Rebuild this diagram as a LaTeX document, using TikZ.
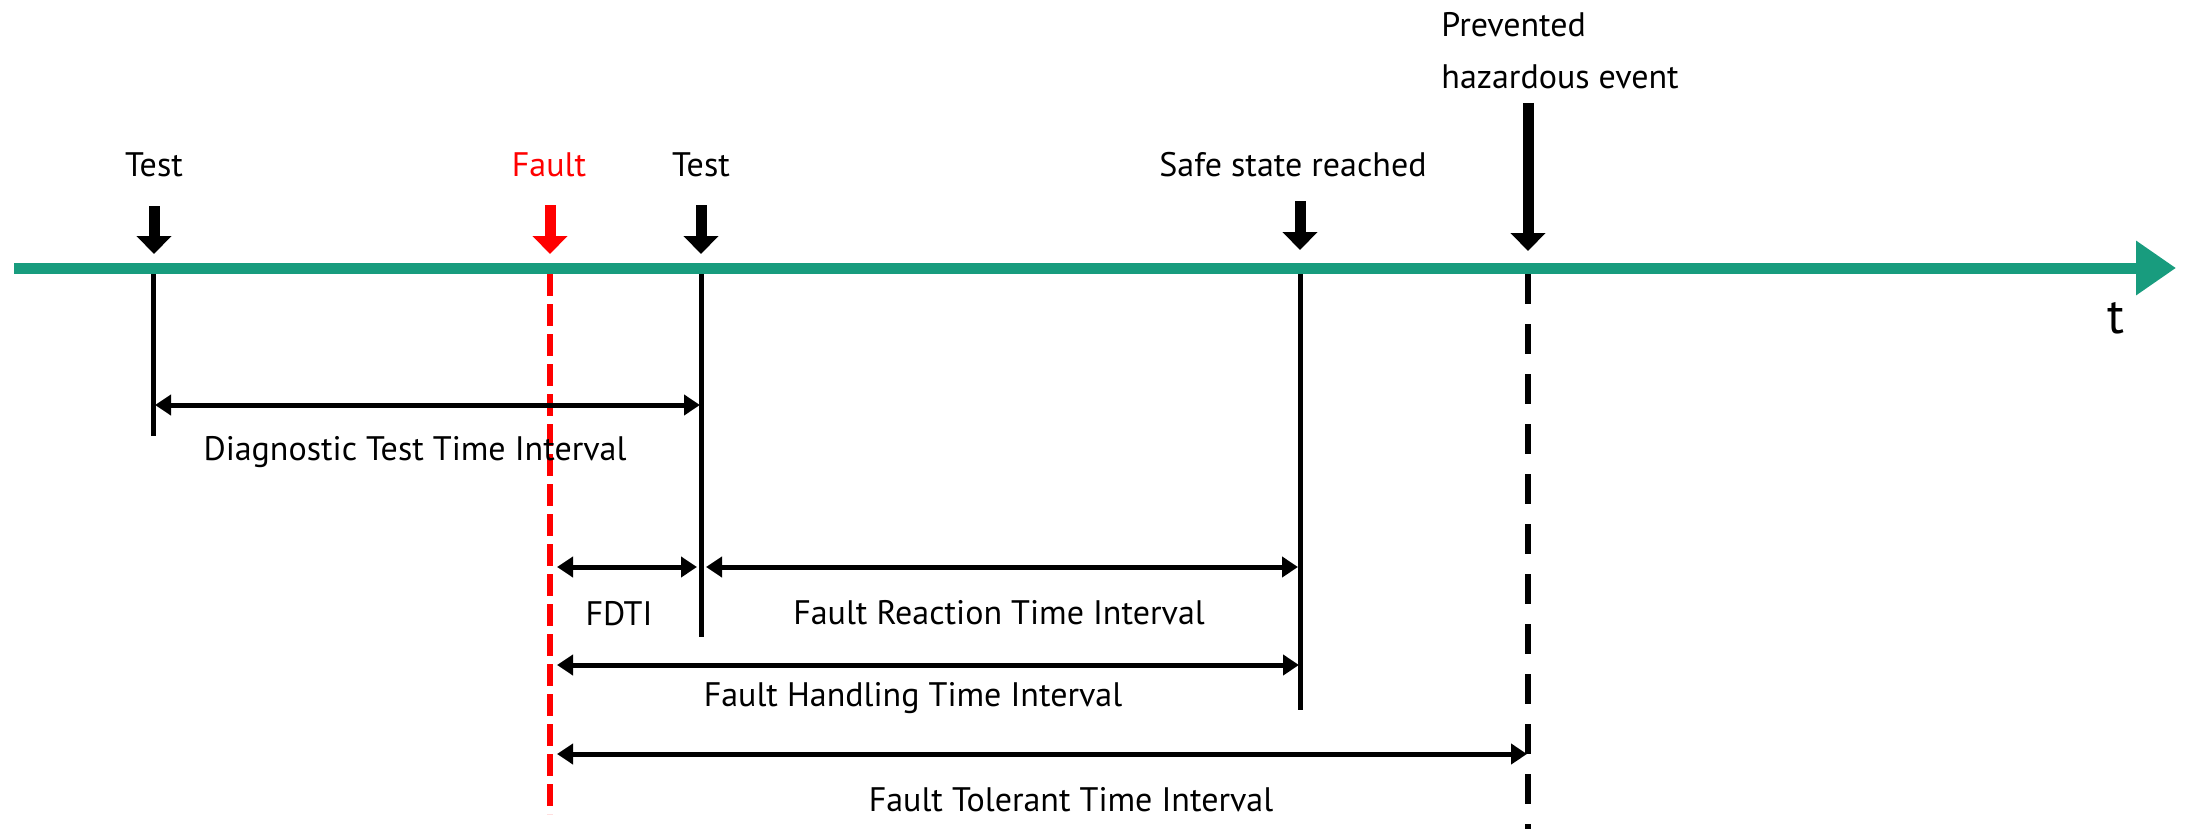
\documentclass[tikz,border=0pt]{standalone}
\usepackage{fontspec}
\setmainfont{PT Sans}
\usetikzlibrary{arrows.meta}
\definecolor{teal}{RGB}{24,156,126}
\definecolor{fred}{RGB}{255,0,0}
\begin{document}
\begin{tikzpicture}[x=0.5pt,y=-0.5pt,
  lbl/.style={font=\fontsize{17}{20}\selectfont, inner sep=0pt},
  timeline/.style={draw=teal, line width=5.5pt, -{Triangle[length=20pt,width=26pt]}},
  evarrow/.style={line width=5.5pt, -{Triangle[length=9pt,width=17pt]}},
  marker/.style={line width=2.5pt},
  dim/.style={line width=2.5pt, {Triangle[length=8pt,width=10pt]}-{Triangle[length=8pt,width=10pt]}},
  reddash/.style={draw=fred, line width=3pt, dash pattern=on 11pt off 4pt},
  blackdash/.style={line width=3pt, dash pattern=on 15pt off 10pt}
]
\useasboundingbox (0,0) rectangle (2190,829);
% timeline
\coordinate (tstart) at (14,268);
\coordinate (tend) at (2176,268);
\draw[timeline] (tstart) -- (tend);
\node[lbl, font=\fontsize{25}{29}\selectfont] (tlab) at (2116,318) {t};

% event labels
\node[lbl] (test1) at (154,165) {Test};
\node[lbl, text=fred] (fault) at (549,165) {Fault};
\node[lbl] (test2) at (701,165) {Test};
\node[lbl] (safe) at (1293,165) {Safe state reached};
\node[lbl, anchor=west] (prev1) at (1441,25) {Prevented};
\node[lbl, anchor=west] (prev2) at (1441,77) {hazardous event};

% event arrow coordinates
\coordinate (a1s) at (154,206); \coordinate (a1e) at (154,254);
\coordinate (a2s) at (550,205); \coordinate (a2e) at (550,254);
\coordinate (a3s) at (701,205); \coordinate (a3e) at (701,254);
\coordinate (a4s) at (1300,201); \coordinate (a4e) at (1300,250);
\coordinate (a5s) at (1528,103); \coordinate (a5e) at (1528,251);
\draw[evarrow] (a1s) -- (a1e);
\draw[evarrow, draw=fred, fill=fred] (a2s) -- (a2e);
\draw[evarrow] (a3s) -- (a3e);
\draw[evarrow] (a4s) -- (a4e);
\draw[evarrow] (a5s) -- (a5e);

% vertical markers
\coordinate (m1t) at (153,274); \coordinate (m1b) at (153,436);
\coordinate (m2t) at (550,274); \coordinate (m2b) at (550,814);
\coordinate (m3t) at (701,274); \coordinate (m3b) at (701,637);
\coordinate (m4t) at (1300,274); \coordinate (m4b) at (1300,710);
\coordinate (m5t) at (1528,274); \coordinate (m5b) at (1528,829);
\draw[marker] (m1t) -- (m1b);
\draw[reddash] (m2t) -- (m2b);
\draw[marker] (m3t) -- (m3b);
\draw[marker] (m4t) -- (m4b);
\draw[blackdash] (m5t) -- (m5b);

% dimension arrows
\coordinate (d1l) at (155,405); \coordinate (d1r) at (700,405);
\coordinate (d2l) at (557,567); \coordinate (d2r) at (697,567);
\coordinate (d3l) at (706,567); \coordinate (d3r) at (1298,567);
\coordinate (d4l) at (557,665); \coordinate (d4r) at (1299,665);
\coordinate (d5l) at (557,754); \coordinate (d5r) at (1527,754);
\draw[dim] (d1l) -- (d1r);
\draw[dim] (d2l) -- (d2r);
\draw[dim] (d3l) -- (d3r);
\draw[dim] (d4l) -- (d4r);
\draw[dim] (d5l) -- (d5r);

\node[lbl] (dtti) at (415,452) {Diagnostic Test Time Interval};
\node[lbl] (fdti) at (619,614) {FDTI};
\node[lbl] (frti) at (999,613) {Fault Reaction Time Interval};
\node[lbl] (fhti) at (913,698) {Fault Handling Time Interval};
\node[lbl] (ftti) at (1071,800) {Fault Tolerant Time Interval};
\end{tikzpicture}
\end{document}
